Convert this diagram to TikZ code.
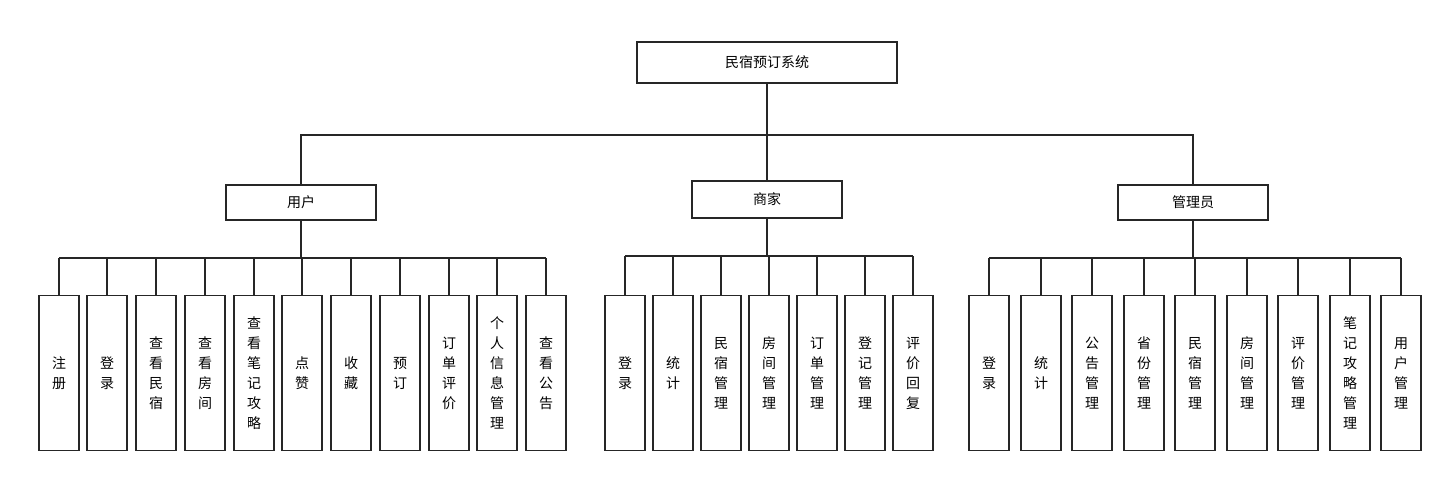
\documentclass[tikz,border=0pt]{standalone}
\usepackage{fontspec}
\newfontfamily\cjk{Noto Sans CJK SC}
\begin{document}
\begin{tikzpicture}[x=1pt,y=-1pt,
  box/.style={draw=black!85,line width=1.3pt,fill=white,inner sep=0pt,font=\cjk\fontsize{14}{16}\selectfont},
  leaf/.style={draw=black!85,line width=1.3pt,fill=white,inner sep=0pt,minimum width=40pt,minimum height=155pt,anchor=north,align=center,font=\cjk\fontsize{14}{20}\selectfont},
  wire/.style={draw=black!85,line width=1.3pt}]
\useasboundingbox (0,0) rectangle (1455,482);
\node[box,minimum width=260pt,minimum height=41pt] (root) at (767,62.5) {民宿预订系统};
\node[box,minimum width=150pt,minimum height=35pt] (u) at (301,202.5) {用户};
\node[box,minimum width=150pt,minimum height=37pt] (m) at (767,199.5) {商家};
\node[box,minimum width=150pt,minimum height=35pt] (a) at (1193,202.5) {管理员};
\coordinate (r0) at (767,135);
\draw[wire] (root.south) -- (r0);
\draw[wire] (u.north) |- (r0) -| (a.north);
\draw[wire] (r0) -- (m.north);
% users
\foreach \x/\t [count=\i] in {59/注\\册,107/登\\录,156/查\\看\\民\\宿,205/查\\看\\房\\间,254/查\\看\\笔\\记\\攻\\略,302/点\\赞,351/收\\藏,400/预\\订,449/订\\单\\评\\价,497/个\\人\\信\\息\\管\\理,546/查\\看\\公\\告}
  {\node[leaf] (u\i) at (\x,295) {\t};}
\coordinate (ub) at (301,258);
\draw[wire] (u.south) -- (ub);
\foreach \i in {1,...,11} {\draw[wire] (u\i.north) -- (u\i.north |- ub);}
\draw[wire] (u1.north |- ub) -- (u11.north |- ub);
% merchant
\foreach \x/\t [count=\i] in {625/登\\录,673/统\\计,721/民\\宿\\管\\理,769/房\\间\\管\\理,817/订\\单\\管\\理,865/登\\记\\管\\理,913/评\\价\\回\\复}
  {\node[leaf] (m\i) at (\x,295) {\t};}
\coordinate (mb) at (767,256);
\draw[wire] (m.south) -- (mb);
\foreach \i in {1,...,7} {\draw[wire] (m\i.north) -- (m\i.north |- mb);}
\draw[wire] (m1.north |- mb) -- (m7.north |- mb);
% admin
\foreach \x/\t [count=\i] in {989/登\\录,1041/统\\计,1092/公\\告\\管\\理,1144/省\\份\\管\\理,1195/民\\宿\\管\\理,1247/房\\间\\管\\理,1298/评\\价\\管\\理,1350/笔\\记\\攻\\略\\管\\理,1401/用\\户\\管\\理}
  {\node[leaf] (a\i) at (\x,295) {\t};}
\coordinate (ab) at (1193,258);
\draw[wire] (a.south) -- (ab);
\foreach \i in {1,...,9} {\draw[wire] (a\i.north) -- (a\i.north |- ab);}
\draw[wire] (a1.north |- ab) -- (a9.north |- ab);
\end{tikzpicture}
\end{document}
